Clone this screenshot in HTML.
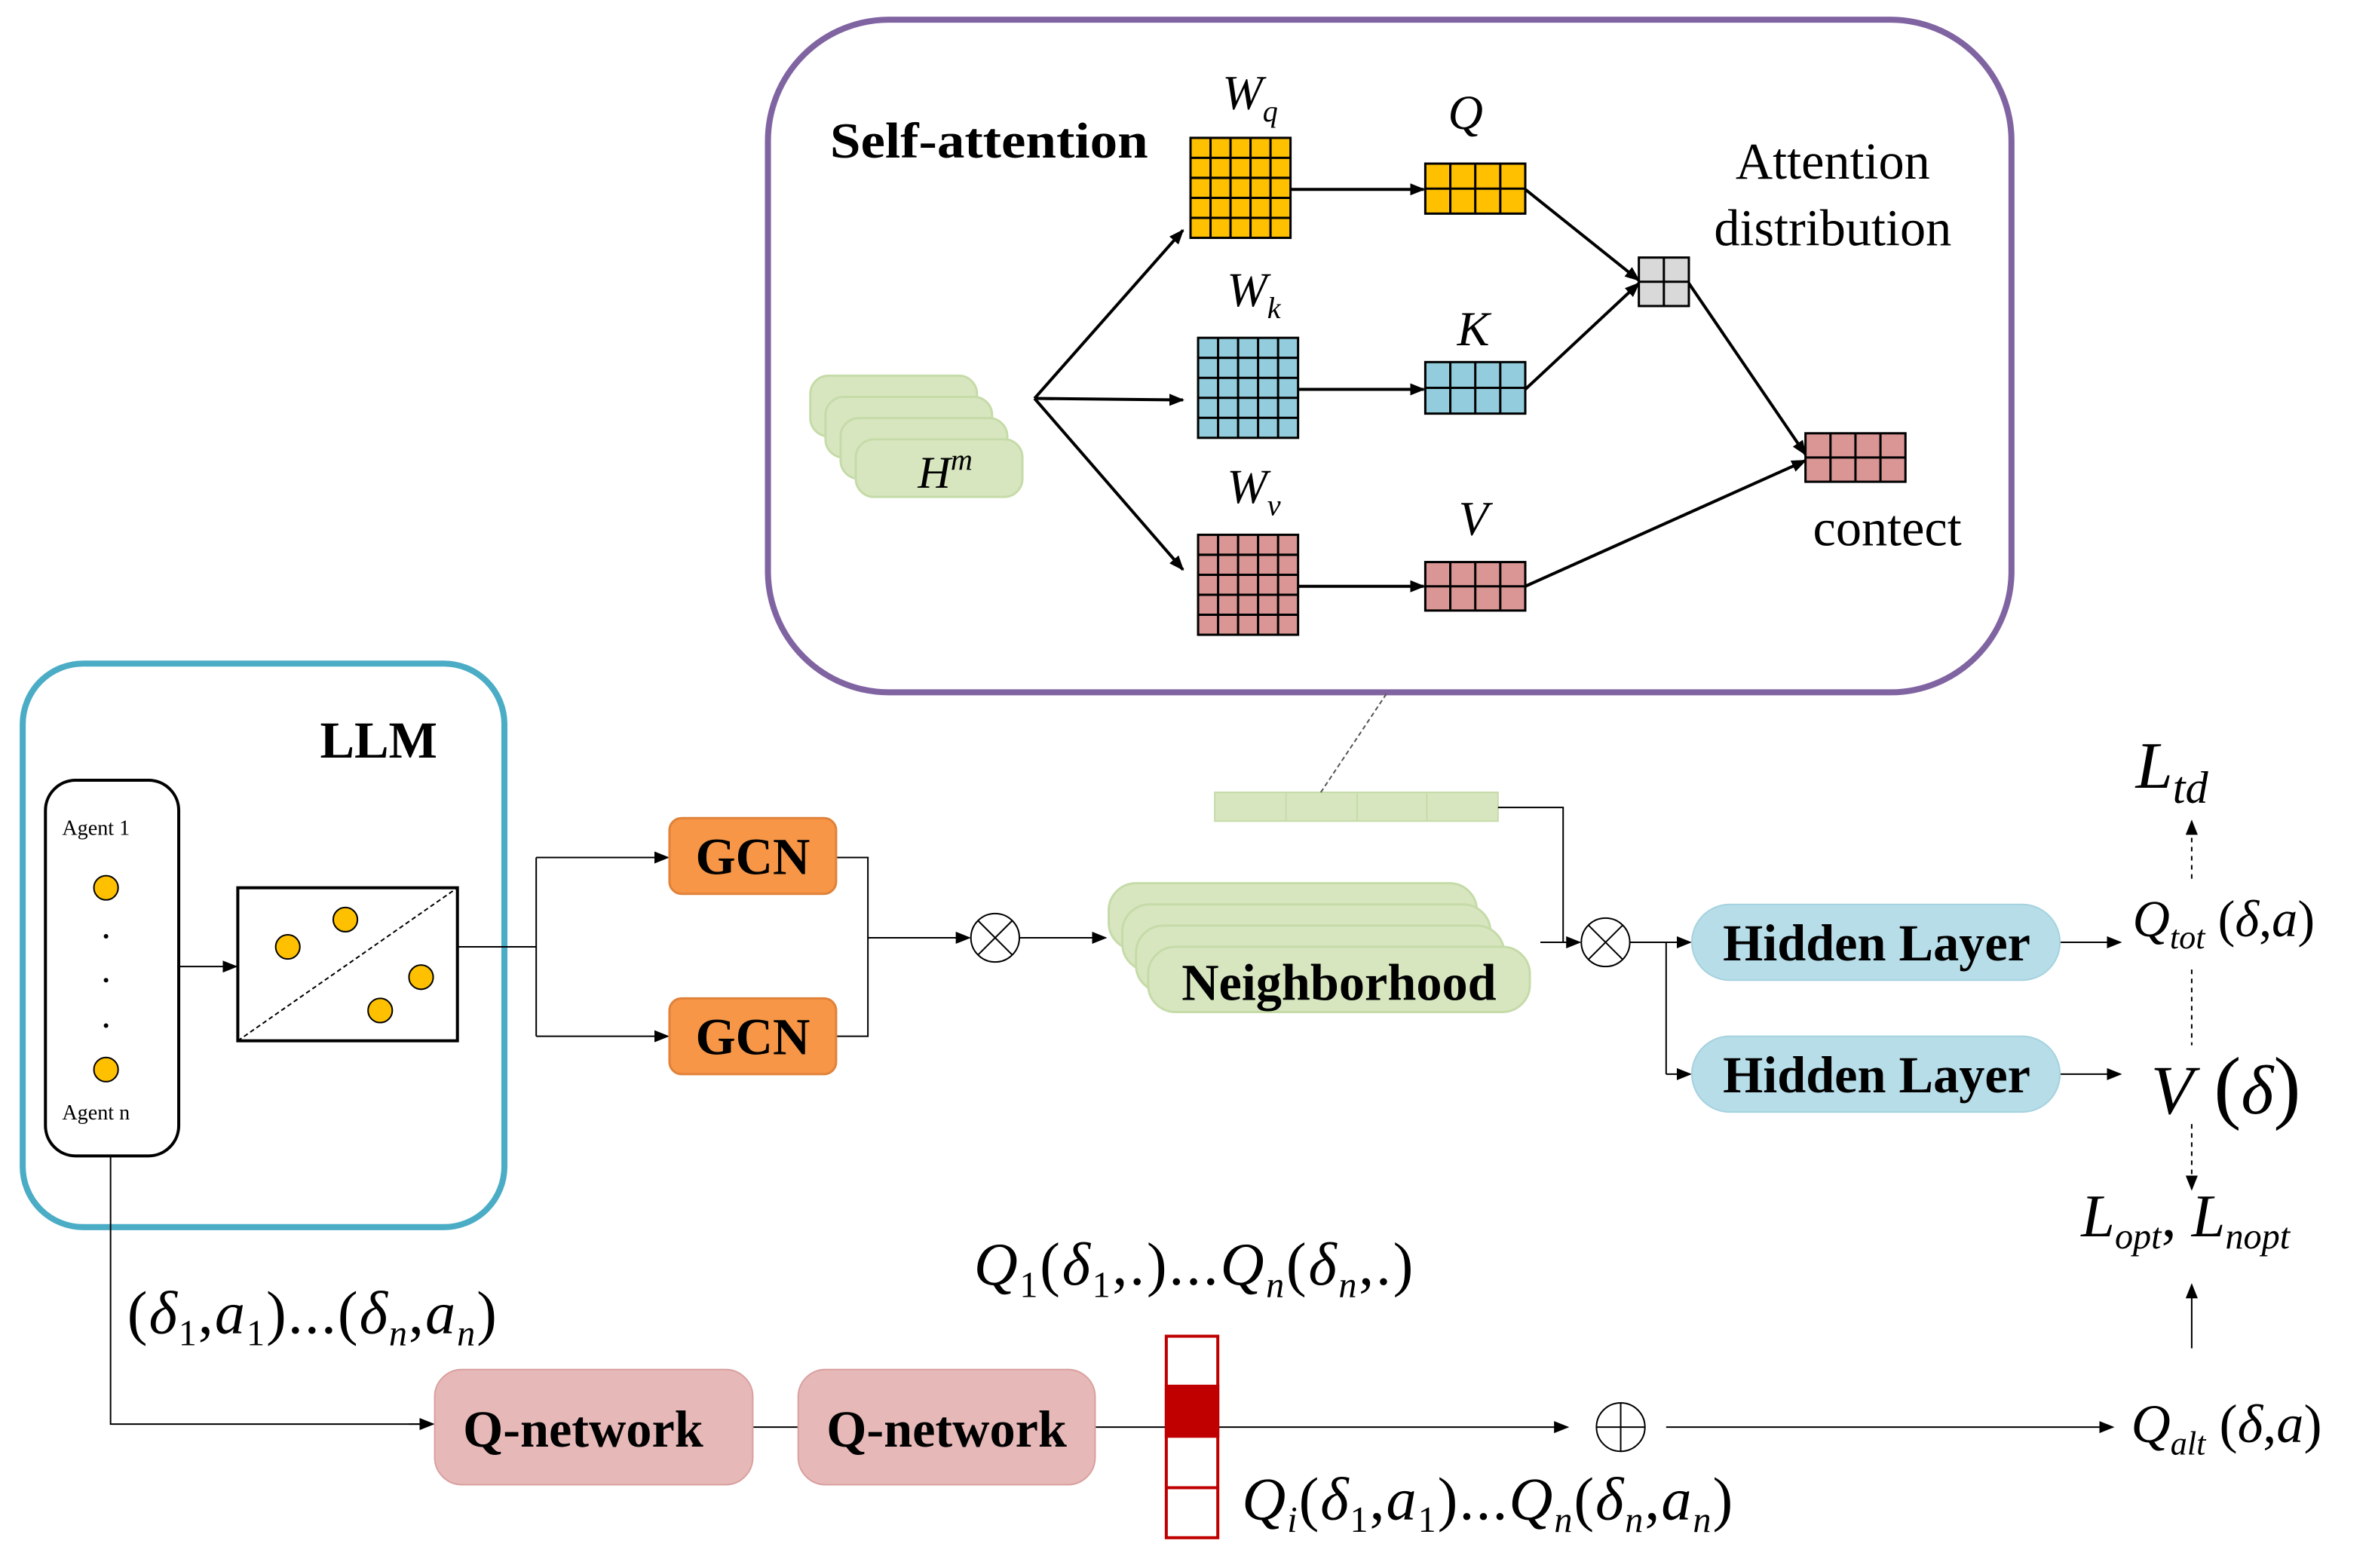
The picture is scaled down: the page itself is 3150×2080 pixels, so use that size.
<!DOCTYPE html>
<html><head><meta charset="utf-8"><style>
html,body{margin:0;padding:0;background:#fff;}
svg{display:block;}
text{font-family:"Liberation Serif",serif;}
.b{font-weight:bold;}
.i{font-style:italic;}
</style></head><body>
<svg width="3150" height="2080" viewBox="0 0 1568 1035" preserveAspectRatio="none" xmlns="http://www.w3.org/2000/svg">
<defs>
<marker id="a" markerWidth="10" markerHeight="8" refX="9" refY="4" orient="auto" markerUnits="userSpaceOnUse"><path d="M0,0 L10,4 L0,8 z" fill="#000"/></marker>
</defs>
<rect width="1568" height="1035" fill="#fff"/>

<rect x="507" y="13" width="821" height="444" rx="80" fill="none" stroke="#8064a2" stroke-width="4"/>
<text x="548" y="104" font-size="33" class="b" textLength="210" lengthAdjust="spacingAndGlyphs">Self-attention</text>

<g stroke="#c5dba8" stroke-width="1.5" fill="#d8e6c0">
<rect x="535" y="248" width="110" height="40" rx="12"/>
<rect x="545" y="262" width="110" height="40" rx="12"/>
<rect x="555" y="276" width="110" height="40" rx="12"/>
<rect x="565" y="290" width="110" height="38" rx="12"/>
</g>
<text x="606" y="322" font-size="30" class="i">H<tspan dy="-12" font-size="20">m</tspan></text>

<g stroke="#000" stroke-width="2" fill="none" marker-end="url(#a)">
<line x1="683" y1="263" x2="781" y2="152"/>
<line x1="683" y1="263" x2="781" y2="264"/>
<line x1="683" y1="263" x2="781" y2="376"/>
</g>

<g stroke="#000" stroke-width="1.5">
<rect x="786" y="91" width="66" height="66" fill="#ffc000"/>
<rect x="791" y="223" width="66" height="66" fill="#93cddd"/>
<rect x="791" y="353" width="66" height="66" fill="#d99694"/>
<path fill="none" d="M799.2,91V157M812.4,91V157M825.6,91V157M838.8,91V157M786,104.2H852M786,117.4H852M786,130.6H852M786,143.8H852
M804.2,223V289M817.4,223V289M830.6,223V289M843.8,223V289M791,236.2H857M791,249.4H857M791,262.6H857M791,275.8H857
M804.2,353V419M817.4,353V419M830.6,353V419M843.8,353V419M791,366.2H857M791,379.4H857M791,392.6H857M791,405.8H857"/>
</g>
<text x="807" y="72" font-size="32" class="i">W<tspan dy="8" font-size="20">q</tspan></text>
<text x="810" y="202" font-size="32" class="i">W<tspan dy="8" font-size="20">k</tspan></text>
<text x="810" y="332" font-size="32" class="i">W<tspan dy="8" font-size="20">v</tspan></text>

<g stroke="#000" stroke-width="2" fill="none" marker-end="url(#a)">
<line x1="852" y1="125" x2="940" y2="125"/>
<line x1="857" y1="257" x2="940" y2="257"/>
<line x1="857" y1="387" x2="940" y2="387"/>
<line x1="1007" y1="125" x2="1082" y2="185"/>
<line x1="1007" y1="257" x2="1082" y2="187"/>
<line x1="1115" y1="187" x2="1192" y2="300"/>
<line x1="1007" y1="387" x2="1192" y2="304"/>
</g>
<g stroke="#000" stroke-width="1.5">
<rect x="941" y="108" width="66" height="33" fill="#ffc000"/>
<rect x="941" y="239" width="66" height="34" fill="#93cddd"/>
<rect x="941" y="371" width="66" height="32" fill="#d99694"/>
<rect x="1082" y="170" width="33" height="32" fill="#d9d9d9"/>
<rect x="1192" y="286" width="66" height="32" fill="#d99694"/>
<path d="M957.5,108 V141 M974,108 V141 M990.5,108 V141 M941,124.5 H1007 M957.5,239 V273 M974,239 V273 M990.5,239 V273 M941,256 H1007 M957.5,371 V403 M974,371 V403 M990.5,371 V403 M941,387 H1007 M1098.5,170 V202 M1082,186 H1115 M1208.5,286 V318 M1225,286 V318 M1241.5,286 V318 M1192,302 H1258" fill="none"/>
</g>
<text x="956" y="85" font-size="32" class="i">Q</text>
<text x="962" y="228" font-size="32" class="i">K</text>
<text x="963" y="353" font-size="32" class="i">V</text>
<text x="1210" y="118" font-size="34" text-anchor="middle">Attention</text>
<text x="1210" y="162" font-size="34" text-anchor="middle">distribution</text>
<text x="1246" y="360" font-size="34" text-anchor="middle">contect</text>

<rect x="15" y="438" width="318" height="372" rx="40" fill="none" stroke="#4bacc6" stroke-width="4"/>
<text x="250" y="500" font-size="34" class="b" text-anchor="middle">LLM</text>
<rect x="30" y="515" width="88" height="248" rx="20" fill="#fff" stroke="#000" stroke-width="2"/>
<text x="41" y="551" font-size="14">Agent 1</text>
<text x="41" y="739" font-size="14">Agent n</text>
<g fill="#ffc000" stroke="#000" stroke-width="1">
<circle cx="70" cy="586" r="8"/><circle cx="70" cy="706" r="8"/>
<circle cx="190" cy="625" r="8"/><circle cx="228" cy="607" r="8"/><circle cx="278" cy="645" r="8"/><circle cx="251" cy="667" r="8"/>
</g>
<g fill="#000"><circle cx="70" cy="618" r="1.5"/><circle cx="70" cy="647" r="1.5"/><circle cx="70" cy="677" r="1.5"/></g>
<line x1="118" y1="638" x2="156" y2="638" stroke="#000" stroke-width="1" marker-end="url(#a)"/>
<rect x="157" y="586" width="145" height="101" fill="none" stroke="#000" stroke-width="2"/>
<line x1="157" y1="687" x2="302" y2="586" stroke="#000" stroke-width="1" stroke-dasharray="3,2"/>

<g stroke="#000" stroke-width="1" fill="none">
<path d="M302,625 H354 M354,566 V684"/>
<line x1="354" y1="566" x2="441" y2="566" marker-end="url(#a)"/>
<line x1="354" y1="684" x2="441" y2="684" marker-end="url(#a)"/>
<path d="M552,566 H573 V684 H552"/>
<line x1="573" y1="619" x2="640" y2="619" marker-end="url(#a)"/>
<line x1="673" y1="619" x2="730" y2="619" marker-end="url(#a)"/>
</g>
<g fill="#f79646" stroke="#e0823a" stroke-width="1.5">
<rect x="442" y="540" width="110" height="50" rx="8"/>
<rect x="442" y="659" width="110" height="50" rx="8"/>
</g>
<text x="497" y="577" font-size="34" class="b" text-anchor="middle">GCN</text>
<text x="497" y="696" font-size="34" class="b" text-anchor="middle">GCN</text>
<g fill="#fff" stroke="#000" stroke-width="1">
<circle cx="657" cy="619" r="16"/><path d="M645.7,607.7 L668.3,630.3 M668.3,607.7 L645.7,630.3"/>
<circle cx="1060" cy="622" r="16"/><path d="M1048.7,610.7 L1071.3,633.3 M1071.3,610.7 L1048.7,633.3"/>
<circle cx="1070" cy="942" r="16"/><path d="M1054,942 H1086 M1070,926 V958"/>
</g>

<g stroke="#c5dba8" stroke-width="1.5" fill="#d8e6c0">
<rect x="732" y="583" width="243" height="44" rx="18"/>
<rect x="741" y="597" width="243" height="44" rx="18"/>
<rect x="750" y="611" width="243" height="44" rx="18"/>
<rect x="758" y="625" width="252" height="43" rx="18"/>
</g>
<text x="884" y="660" font-size="34" class="b" text-anchor="middle">Neighborhood</text>

<rect x="802" y="523" width="187" height="19" fill="#d8e6c0" stroke="#c5dba8" stroke-width="1"/>
<path d="M849,523 V542 M896,523 V542 M942,523 V542" stroke="#c5dba8" stroke-width="1"/>
<line x1="872" y1="523" x2="916" y2="457" stroke="#555" stroke-width="1" stroke-dasharray="3,2"/>
<g stroke="#000" stroke-width="1" fill="none">
<path d="M989,533 H1032 V622 H1017"/>
<line x1="1017" y1="622" x2="1043" y2="622" marker-end="url(#a)"/>
<line x1="1076" y1="622" x2="1116" y2="622" marker-end="url(#a)"/>
<path d="M1100,622 V709"/>
<line x1="1100" y1="709" x2="1116" y2="709" marker-end="url(#a)"/>
<line x1="1360" y1="622" x2="1400" y2="622" marker-end="url(#a)"/>
<line x1="1360" y1="709" x2="1400" y2="709" marker-end="url(#a)"/>
</g>
<g fill="#b7dde8" stroke="#a5d2df" stroke-width="1">
<rect x="1117" y="597" width="243" height="50" rx="25"/>
<rect x="1117" y="684" width="243" height="50" rx="25"/>
</g>
<text x="1239" y="634" font-size="34" class="b" text-anchor="middle">Hidden Layer</text>
<text x="1239" y="721" font-size="34" class="b" text-anchor="middle">Hidden Layer</text>

<text x="1410" y="520" font-size="44" class="i">L<tspan dy="10" font-size="30">td</tspan></text>
<g stroke="#000" stroke-width="1" fill="none">
<line x1="1447" y1="580" x2="1447" y2="542" stroke-dasharray="3,3" marker-end="url(#a)"/>
<line x1="1447" y1="640" x2="1447" y2="690" stroke-dasharray="3,3"/>
<line x1="1447" y1="742" x2="1447" y2="785" stroke-dasharray="3,3" marker-end="url(#a)"/>
<line x1="1447" y1="890" x2="1447" y2="848" marker-end="url(#a)"/>
</g>
<text x="1408" y="618" font-size="34"><tspan class="i">Q</tspan><tspan class="i" dy="8" font-size="22">tot</tspan><tspan dy="-8"> (</tspan><tspan class="i">δ</tspan>,<tspan class="i">a</tspan>)</text>
<text x="1420" y="735" font-size="46"><tspan class="i">V</tspan><tspan font-size="54"> (</tspan><tspan class="i">δ</tspan><tspan font-size="54">)</tspan></text>
<text x="1374" y="816" font-size="40" class="i">L<tspan dy="8" font-size="24">opt</tspan><tspan dy="-8" font-style="normal">,</tspan> L<tspan dy="8" font-size="24">nopt</tspan></text>
<text x="1407" y="952" font-size="36"><tspan class="i">Q</tspan><tspan class="i" dy="8" font-size="22">alt</tspan><tspan dy="-8"> (</tspan><tspan class="i">δ</tspan>,<tspan class="i">a</tspan>)</text>

<g stroke="#000" stroke-width="1" fill="none">
<path d="M73,763 V940 H280"/>
<line x1="270" y1="940" x2="286" y2="940" marker-end="url(#a)"/>
<path d="M497,942 H527 M723,942 H770"/>
<line x1="804" y1="942" x2="1035" y2="942" marker-end="url(#a)"/>
<line x1="1100" y1="942" x2="1395" y2="942" marker-end="url(#a)"/>
</g>
<g fill="#e6b9b8" stroke="#d9a09f" stroke-width="1">
<rect x="287" y="904" width="210" height="76" rx="18"/>
<rect x="527" y="904" width="196" height="76" rx="18"/>
</g>
<text x="385" y="955" font-size="34" class="b" text-anchor="middle">Q-network</text>
<text x="625" y="955" font-size="34" class="b" text-anchor="middle">Q-network</text>
<g stroke="#c00000" stroke-width="2" fill="#fff">
<rect x="770" y="882" width="34" height="133"/>
<rect x="770" y="915" width="34" height="33" fill="#c00000"/>
<path d="M770,948 H804 M770,982 H804" fill="none"/>
</g>
<text x="84" y="880" font-size="40" textLength="244" lengthAdjust="spacing">(<tspan class="i">δ</tspan><tspan dy="8" font-size="24">1</tspan><tspan dy="-8">,</tspan><tspan class="i">a</tspan><tspan dy="8" font-size="24">1</tspan><tspan dy="-8">)...(</tspan><tspan class="i">δ</tspan><tspan dy="8" font-size="24" class="i">n</tspan><tspan dy="-8">,</tspan><tspan class="i">a</tspan><tspan dy="8" font-size="24" class="i">n</tspan><tspan dy="-8">)</tspan></text>
<text x="643" y="848" font-size="40" textLength="290" lengthAdjust="spacing"><tspan class="i">Q</tspan><tspan dy="8" font-size="24">1</tspan><tspan dy="-8">(</tspan><tspan class="i">δ</tspan><tspan dy="8" font-size="24">1</tspan><tspan dy="-8">,.)...</tspan><tspan class="i">Q</tspan><tspan dy="8" font-size="24" class="i">n</tspan><tspan dy="-8">(</tspan><tspan class="i">δ</tspan><tspan dy="8" font-size="24" class="i">n</tspan><tspan dy="-8">,.)</tspan></text>
<text x="820" y="1003" font-size="40" textLength="324" lengthAdjust="spacing"><tspan class="i">Q</tspan><tspan dy="8" font-size="24" class="i">i</tspan><tspan dy="-8">(</tspan><tspan class="i">δ</tspan><tspan dy="8" font-size="24">1</tspan><tspan dy="-8">,</tspan><tspan class="i">a</tspan><tspan dy="8" font-size="24">1</tspan><tspan dy="-8">)...</tspan><tspan class="i">Q</tspan><tspan dy="8" font-size="24" class="i">n</tspan><tspan dy="-8">(</tspan><tspan class="i">δ</tspan><tspan dy="8" font-size="24" class="i">n</tspan><tspan dy="-8">,</tspan><tspan class="i">a</tspan><tspan dy="8" font-size="24" class="i">n</tspan><tspan dy="-8">)</tspan></text>
</svg>
</body></html>
